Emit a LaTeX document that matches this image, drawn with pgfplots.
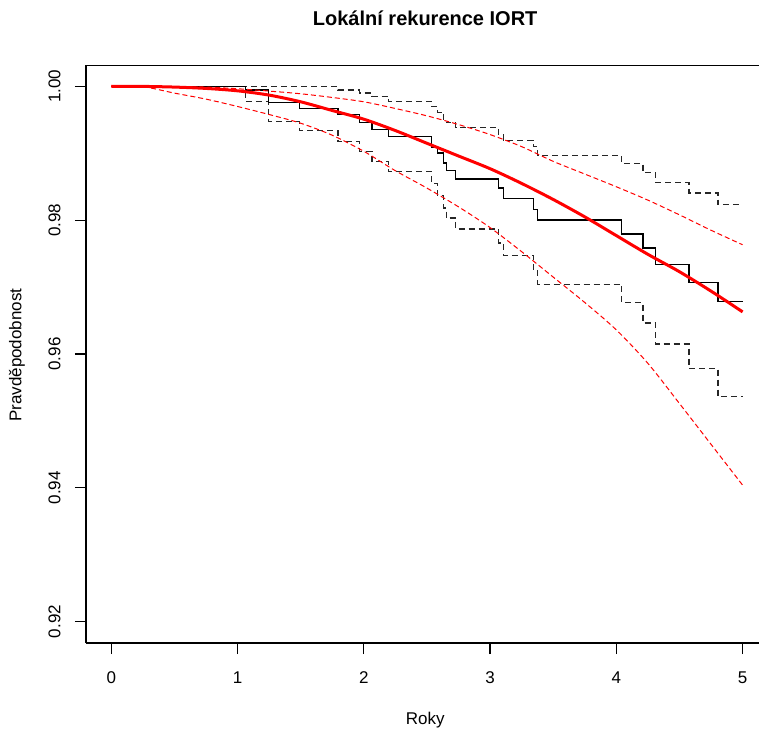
\documentclass[border=0pt]{standalone}
\usepackage{fontspec}
\setmainfont{Liberation Sans}
\usepackage{pgfplots}
\pgfplotsset{compat=1.18}

% Kaplan-Meier estimate and its confidence limits (step functions)
\pgfplotstableread{
t s
0 1
1.063 0.99945
1.248 0.99756
1.493 0.9967
1.796 0.9958
1.968 0.99465
2.065 0.99356
2.196 0.9925
2.535 0.99081
2.583 0.99006
2.63 0.98856
2.652 0.98746
2.729 0.98617
3.066 0.98482
3.105 0.98322
3.342 0.98157
3.377 0.98003
4.041 0.97793
4.212 0.97584
4.31 0.97338
4.576 0.97074
4.805 0.96779
5 0.96779
}\km
\pgfplotstableread{
t s
0 1
1.796 0.99945
1.968 0.9990
2.065 0.99855
2.196 0.99775
2.535 0.99696
2.583 0.99615
2.63 0.9950
2.652 0.99465
2.729 0.9939
3.066 0.99281
3.105 0.99196
3.342 0.99097
3.377 0.98966
4.041 0.98851
4.212 0.98712
4.31 0.98567
4.576 0.98408
4.805 0.98232
5 0.98232
}\kmup
\pgfplotstableread{
t s
0 1
1.063 0.99771
1.248 0.9948
1.493 0.99343
1.796 0.9918
1.968 0.9903
2.065 0.98875
2.196 0.98731
2.535 0.98547
2.583 0.98367
2.63 0.98183
2.652 0.98033
2.729 0.97868
3.066 0.97658
3.105 0.97468
3.342 0.97258
3.377 0.97044
4.041 0.96764
4.212 0.96464
4.31 0.9615
4.576 0.95786
4.805 0.9536
5 0.9536
}\kmlo
% fitted model curve with its limits
\pgfplotstableread{
t fit up lo
0 1 1 1
0.25 1.0000 1.0000 0.99995
0.5 0.9999 0.99995 0.9990
0.75 0.9997 0.9999 0.9981
1.0 0.99934 0.99965 0.9970
1.25 0.9987 0.9993 0.9958
1.5 0.9977 0.9989 0.9945
1.75 0.9964 0.99835 0.9927
2.0 0.9951 0.9977 0.9903
2.25 0.9934 0.9967 0.9874
2.5 0.9915 0.9956 0.9848
2.75 0.9896 0.9943 0.9820
3.0 0.9877 0.9928 0.9789
3.25 0.9855 0.9910 0.9753
3.5 0.9831 0.9888 0.9715
3.75 0.9805 0.9869 0.9677
4.0 0.9777 0.9850 0.9636
4.25 0.9749 0.9830 0.9586
4.5 0.9723 0.9808 0.9526
4.75 0.9694 0.9785 0.9465
5.0 0.9663 0.97633 0.9404
}\model

\begin{document}
\begin{tikzpicture}
\path[use as bounding box] (-43pt,-45.5pt) rectangle (336.5pt,321.5pt);
\begin{axis}[
  at={(0,0)}, anchor=south west,
  scale only axis, width=336.5pt, height=289pt,
  xmin=-0.2, xmax=5.13, ymin=0.9168, ymax=1.0032,
  axis lines*=left, axis line style={-, black, line width=0.6pt},
  tick align=outside, major tick length=5.5pt,
  tick style={black, line width=0.6pt},
  xtick={0,1,2,3,4,5},
  ytick={0.92,0.94,0.96,0.98,1.00},
  /pgf/number format/assume math mode=true,
  yticklabel style={/pgf/number format/.cd, fixed, zerofill, precision=2, /tikz/.cd,
    rotate=90, anchor=south, inner sep=0pt, yshift=7pt},
  xticklabel style={anchor=north, inner sep=0pt, yshift=-8.5pt},
  tick label style={font=\fontsize{8.5}{10}\selectfont},
  label style={font=\fontsize{8.5}{10}\selectfont},
  xlabel={Roky}, ylabel={Pravděpodobnost},
  xlabel style={at={(axis description cs:0.504,0)}, anchor=center, yshift=-38.5pt},
  ylabel style={at={(axis description cs:0,0.498)}, anchor=center, yshift=34.5pt},
  title={Lokální rekurence IORT},
  title style={font=\fontsize{10}{12}\selectfont\bfseries, at={(axis description cs:0.504,1)}, anchor=center, yshift=17.5pt},
]
\draw[black, line width=0.6pt] (rel axis cs:0,1) -- (rel axis cs:1,1);
\addplot[const plot, black!85, line width=0.6pt, dash pattern=on 3pt off 2pt] table[x=t, y=s] {\kmup};
\addplot[const plot, black!85, line width=0.6pt, dash pattern=on 3pt off 2pt] table[x=t, y=s] {\kmlo};
\addplot[const plot, black, line width=0.6pt] table[x=t, y=s] {\km};
\addplot[red, line width=0.5pt, dash pattern=on 2.5pt off 1.5pt, smooth] table[x=t, y=up] {\model};
\addplot[red, line width=0.5pt, dash pattern=on 2.5pt off 1.5pt, smooth] table[x=t, y=lo] {\model};
\addplot[red, line width=1.5pt, smooth] table[x=t, y=fit] {\model};
\end{axis}
\end{tikzpicture}
\end{document}
